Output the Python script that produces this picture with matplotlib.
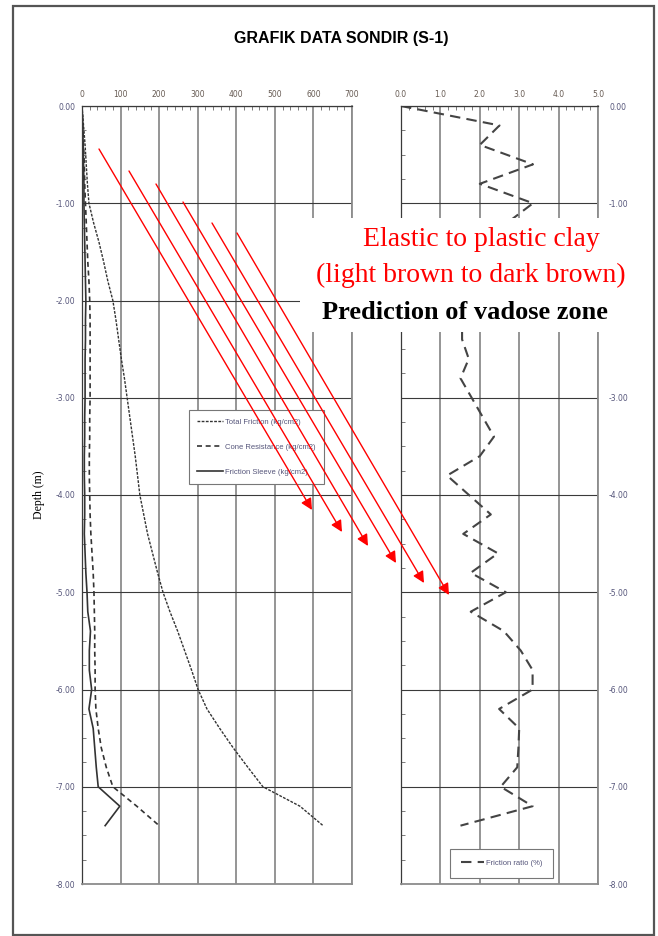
import matplotlib.pyplot as plt
from matplotlib.patches import Rectangle, FancyArrowPatch
from matplotlib.ticker import MultipleLocator, FormatStrFormatter

# sondir readings (depth in m, values in kg/cm2)
depth = [0.0, -0.2, -0.4, -0.6, -0.8, -1.0, -1.2, -1.4, -1.6, -1.8,
         -2.0, -2.2, -2.4, -2.6, -2.8, -3.0, -3.2, -3.4, -3.6, -3.8,
         -4.0, -4.2, -4.4, -4.6, -4.8, -5.0, -5.2, -5.4, -5.6, -5.8,
         -6.0, -6.2, -6.4, -6.6, -6.8, -7.0, -7.2, -7.4]
total_friction = [0, 4, 8, 11, 14, 18, 30, 44, 56, 67,
                  80, 88, 95, 102, 110, 117, 124, 131, 138, 144,
                  150, 160, 170, 183, 196, 210, 228, 248, 266, 284,
                  301, 324, 357, 392, 430, 469, 565, 625]
cone_resistance = [0, 2, 4, 6, 7, 9, 11, 13, 15, 18,
                   20, 21, 21, 21, 21, 21, 20, 20, 19, 19,
                   20, 21, 23, 26, 29, 31, 32, 33, 33, 34,
                   34, 36, 42, 50, 63, 80, 142, 200]
friction_sleeve = [0, 2, 3, 4, 5, 5, 6, 7, 8, 9,
                   10, 9, 9, 8, 8, 8, 7, 7, 6, 6,
                   7, 7, 6, 8, 10, 13, 15, 22, 19, 19,
                   25, 18, 29, 33, 37, 42, 98, 60]

ratio_depth = [0.0, -0.2, -0.4, -0.6, -0.8, -1.0, -1.2, -1.4, -1.6, -1.8,
               -2.0, -2.2, -2.4, -2.6, -2.8, -3.4, -3.6, -3.8, -4.2, -4.4,
               -4.6, -4.8, -5.0, -5.2, -5.4, -5.6, -5.8, -6.0, -6.2, -6.4,
               -6.6, -6.8, -7.0, -7.2, -7.4]
friction_ratio = [0.0, 2.5, 2.0, 3.35, 2.0, 3.35, 2.7, 2.3, 2.0, 1.8,
                  1.7, 1.55, 1.55, 1.72, 1.51, 2.36, 2.0, 1.17, 2.28, 1.58,
                  2.46, 1.77, 2.66, 1.77, 2.61, 3.04, 3.34, 3.34, 2.49, 3.0,
                  2.98, 2.95, 2.53, 3.34, 1.51]

# annotation arrows (pixel positions on the page: start -> tip)
arrow_start = [(99, 149), (129, 171), (156, 184), (183, 202), (212, 223), (237, 233)]
arrow_end = [(312, 510), (342, 532), (368, 546), (396, 563), (424, 583), (449, 595)]

W, H = 658, 936
fig = plt.figure(figsize=(W / 100, H / 100), dpi=100)


def fx(px):
    return px / W


def fy(py):
    return 1 - py / H


tick_col = '#55557a'
xtick_col = '#665a52'
line_col = '#333333'

ax1 = fig.add_axes([fx(82), fy(884), fx(352) - fx(82), fy(106) - fy(884)])
ax2 = fig.add_axes([fx(401), fy(884), fx(598) - fx(401), fy(106) - fy(884)])


def style_axes(ax, xmax, xmajor, xminor, xfmt):
    ax.set_xlim(0, xmax)
    ax.set_ylim(-8, 0)
    ax.xaxis.tick_top()
    ax.xaxis.set_major_locator(MultipleLocator(xmajor))
    ax.xaxis.set_minor_locator(MultipleLocator(xminor))
    ax.xaxis.set_major_formatter(FormatStrFormatter(xfmt))
    ax.yaxis.set_major_locator(MultipleLocator(1))
    ax.yaxis.set_minor_locator(MultipleLocator(0.25))
    ax.yaxis.set_major_formatter(FormatStrFormatter('%.2f'))
    ax.grid(axis='x', which='major', color='#8c8c8c', lw=1.3)
    ax.grid(axis='y', which='major', color='#3a3a3a', lw=0.8)
    ax.tick_params(which='both', direction='in', labelsize=5.5, labelcolor=tick_col,
                   color='#666666', width=0.6)
    ax.tick_params(axis='x', labelcolor=xtick_col)
    ax.tick_params(which='major', length=0, pad=5)
    ax.tick_params(which='minor', length=3)
    ax.tick_params(axis='y', which='minor', left=True, right=False)
    for s in ['top', 'left']:
        ax.spines[s].set_color('#3a3a3a')
        ax.spines[s].set_linewidth(0.9)
    for s in ['right', 'bottom']:
        ax.spines[s].set_color('#8c8c8c')
        ax.spines[s].set_linewidth(1.3)


style_axes(ax1, 700, 100, 20, '%d')
style_axes(ax2, 5, 1, 0.2, '%.1f')
ax2.tick_params(axis='y', which='both', labelleft=False, labelright=True, pad=8)

ax1.plot(total_friction, depth, color=line_col, lw=1.0, ls=(0, (2, 1)), label='Total Friction (kg/cm2)')
ax1.plot(cone_resistance, depth, color=line_col, lw=1.2, ls=(0, (3, 2.2)), label='Cone Resistance (kg/cm2)')
ax1.plot(friction_sleeve, depth, color=line_col, lw=1.2, label='Friction Sleeve (kg/cm2)')
ax2.plot(friction_ratio, ratio_depth, color='#444444', lw=1.5, ls=(0, (5, 3)), label='Friction ratio (%)')

leg_font = {'family': 'Liberation Sans', 'size': 5.5}
leg1 = ax1.legend(loc='upper left', bbox_to_anchor=(0.396, 0.609), prop=leg_font, labelcolor=tick_col,
                  fancybox=False, edgecolor='#777777', framealpha=1, handlelength=3.3,
                  labelspacing=2.3, borderpad=1.1, handletextpad=0.3, borderaxespad=0)
leg1.get_frame().set_linewidth(0.8)
leg2 = ax2.legend(loc='upper left', bbox_to_anchor=(0.249, 0.045), prop=leg_font, labelcolor=tick_col,
                  fancybox=False, edgecolor='#777777', framealpha=1, handlelength=3.0,
                  borderpad=1.4, handletextpad=0.3, borderaxespad=0)
leg2.get_frame().set_linewidth(0.8)

fig.text(fx(341), fy(38), 'GRAFIK DATA SONDIR (S-1)', ha='center', va='center',
         fontsize=11.5, fontweight='bold', family='Liberation Sans')
fig.text(fx(39), fy(495), 'Depth (m)', rotation=90, ha='center', va='center',
         fontsize=8.5, family='Liberation Serif')

# white box behind the annotation text
fig.add_artist(Rectangle((fx(300), fy(332)), fx(640) - fx(300), fy(218) - fy(332),
                         transform=fig.transFigure, facecolor='white', edgecolor='none', zorder=3))
fig.text(fx(481), fy(240), 'Elastic to plastic clay', ha='center', va='center', color='#ff0000',
         fontsize=20, family='Liberation Serif', zorder=4)
fig.text(fx(471), fy(275), '(light brown to dark brown)', ha='center', va='center', color='#ff0000',
         fontsize=20, family='Liberation Serif', zorder=4)
fig.text(fx(465), fy(313), 'Prediction of vadose zone', ha='center', va='center', color='black',
         fontsize=19, fontweight='bold', family='Liberation Serif', zorder=4)

for (x0, y0), (x1, y1) in zip(arrow_start, arrow_end):
    fig.add_artist(FancyArrowPatch((fx(x0), fy(y0)), (fx(x1), fy(y1)), transform=fig.transFigure,
                                   arrowstyle='-|>', mutation_scale=17, color='#ff0000',
                                   lw=1.0, shrinkA=0, shrinkB=0, zorder=5))

# page border
fig.add_artist(Rectangle((fx(13), fy(935)), fx(654) - fx(13), fy(6) - fy(935),
                         transform=fig.transFigure, fill=False, edgecolor='#555555', lw=1.6, zorder=6))

fig.savefig('out.png', dpi=100)
